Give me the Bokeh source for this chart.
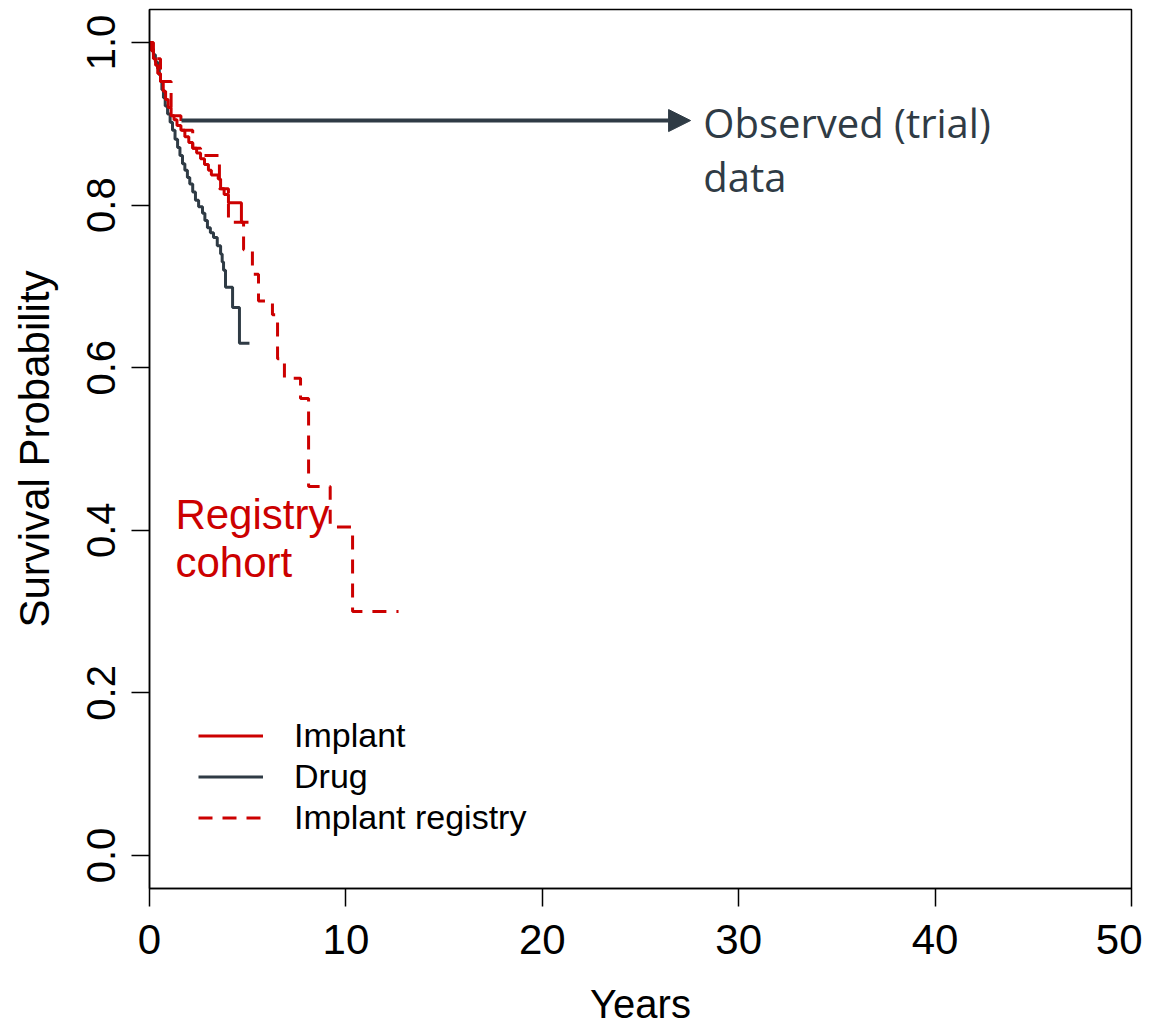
from bokeh.plotting import figure
from bokeh.models import FixedTicker, Legend, LegendItem, Arrow, NormalHead, Range1d
from bokeh.core.properties import value
from bokeh.embed import file_html
from bokeh.resources import INLINE

# ---------------- data ----------------
implant_t = [0, 0.1, 0.2, 0.31, 0.42, 0.56, 0.7, 0.82, 0.95, 1.1, 1.25, 1.4, 1.6, 1.8,
             2.0, 2.2, 2.4, 2.6, 2.8, 3.0, 3.15, 3.5, 3.62, 3.8, 4.02, 4.68, 5.04]
implant_s = [1.0, 0.99, 0.98, 0.972, 0.962, 0.952, 0.94, 0.93, 0.92, 0.91, 0.905, 0.898,
             0.892, 0.884, 0.877, 0.87, 0.864, 0.857, 0.85, 0.843, 0.837, 0.832, 0.82,
             0.813, 0.803, 0.779, 0.779]

drug_t = [0, 0.1, 0.2, 0.3, 0.41, 0.5, 0.56, 0.63, 0.71, 0.8, 0.92, 1.05, 1.17, 1.3, 1.43,
          1.55, 1.68, 1.8, 1.93, 2.05, 2.2, 2.34, 2.5, 2.7, 2.82, 2.95, 3.1, 3.26, 3.45,
          3.62, 3.7, 3.77, 3.87, 4.23, 4.58, 5.09]
drug_s = [1.0, 0.992, 0.985, 0.976, 0.968, 0.96, 0.952, 0.942, 0.932, 0.922, 0.912, 0.902,
          0.892, 0.881, 0.871, 0.861, 0.851, 0.843, 0.834, 0.826, 0.816, 0.806, 0.798,
          0.79, 0.781, 0.772, 0.766, 0.76, 0.75, 0.74, 0.73, 0.72, 0.699, 0.674, 0.63, 0.63]

registry_t = [0, 0.2, 0.56, 1.1, 1.6, 2.2, 2.6, 3.56, 4.02, 4.79, 5.24, 5.55, 6.26, 6.52,
              6.87, 7.69, 8.1, 9.2, 10.34, 12.68]
registry_s = [1.0, 0.98, 0.952, 0.91, 0.892, 0.87, 0.861, 0.82, 0.779, 0.745, 0.715, 0.682,
              0.665, 0.611, 0.587, 0.562, 0.454, 0.404, 0.300, 0.300]

series_names = ["Implant", "Drug", "Implant registry"]
x_ticks = [0, 10, 20, 30, 40, 50]
y_ticks = [0.0, 0.2, 0.4, 0.6, 0.8, 1.0]
y_tick_labels = ["0.0", "0.2", "0.4", "0.6", "0.8", "1.0"]
x_label = "Years"
y_label = "Survival Probability"

observed_text = ["Observed (trial)", "data"]
registry_text = ["Registry", "cohort"]

# ---------------- styling / positions ----------------
RED = "#CC0000"
DARK = "#2F3B45"
FONT = "Liberation Sans"

p = figure(frame_width=982, frame_height=879,
           min_border_left=149, min_border_right=11, min_border_top=9, min_border_bottom=143,
           x_range=Range1d(0, 50), y_range=Range1d(-0.0406, 1.0406),
           output_backend="svg", toolbar_location=None,
           x_axis_label=x_label, y_axis_label=y_label)

p.xgrid.visible = False
p.ygrid.visible = False
p.outline_line_color = "black"
p.outline_line_width = 1.5
p.background_fill_color = "white"
p.border_fill_color = "white"

p.xaxis.ticker = FixedTicker(ticks=x_ticks)
p.yaxis.ticker = FixedTicker(ticks=y_ticks)
p.yaxis.major_label_overrides = {v: lab for v, lab in zip(y_ticks, y_tick_labels)}
p.yaxis.major_label_orientation = "vertical"

for ax in (p.xaxis[0], p.yaxis[0]):
    ax.major_label_text_font = FONT
    ax.major_label_text_color = "black"
    ax.axis_label_text_font = FONT
    ax.axis_label_text_font_style = "normal"
    ax.axis_label_text_color = "black"
    ax.major_tick_out = 18
    ax.major_tick_in = 0
    ax.minor_tick_out = 0
    ax.minor_tick_in = 0
    ax.axis_line_width = 1.5
    ax.axis_line_color = "black"
    ax.major_tick_line_width = 1.5
    ax.major_tick_line_color = "black"
p.xaxis.major_label_text_font_size = "42px"
p.yaxis.major_label_text_font_size = "40px"
p.xaxis.major_label_standoff = 18
p.yaxis.major_label_standoff = 16
p.xaxis.axis_label_text_font_size = "40px"
p.yaxis.axis_label_text_font_size = "42px"
p.xaxis.axis_label_standoff = 25
p.yaxis.axis_label_standoff = 27

r_drug = p.step(drug_t, drug_s, mode="after", line_color=DARK, line_width=3)
r_imp = p.step(implant_t, implant_s, mode="after", line_color=RED, line_width=3)
r_reg = p.step(registry_t, registry_s, mode="after", line_color=RED, line_width=3,
               line_dash="14 10")

legend = Legend(items=[LegendItem(label=series_names[0], renderers=[r_imp]),
                       LegendItem(label=series_names[1], renderers=[r_drug]),
                       LegendItem(label=series_names[2], renderers=[r_reg])],
                location=(49, 50), glyph_width=65, glyph_height=41, label_height=41,
                spacing=0, padding=0, margin=0, label_standoff=31,
                border_line_color=None, background_fill_alpha=0,
                label_text_font=FONT, label_text_font_size="34px",
                label_text_color="black")
p.add_layout(legend)

# arrow annotation
arrow_x0, arrow_x1, arrow_y = 1.63, 27.55, 0.904
p.add_layout(Arrow(end=NormalHead(size=22, fill_color=DARK, line_color=DARK, line_width=1),
                   x_start=arrow_x0, y_start=arrow_y, x_end=arrow_x1, y_end=arrow_y,
                   line_color=DARK, line_width=4))

obs_x = 28.2
obs_y = [0.9016, 0.8352]
p.text(x=[obs_x, obs_x], y=obs_y, text=observed_text, text_font=value("Open Sans"),
       text_font_size="40px", text_color=DARK, text_baseline="alphabetic", text_align="left")

reg_x = 1.32
reg_y = [0.4194, 0.3604]
p.text(x=[reg_x, reg_x], y=reg_y, text=registry_text, text_font=value(FONT),
       text_font_size="42px", text_color=RED, text_baseline="alphabetic", text_align="left")

open("out.html", "w").write(file_html(p, INLINE))
